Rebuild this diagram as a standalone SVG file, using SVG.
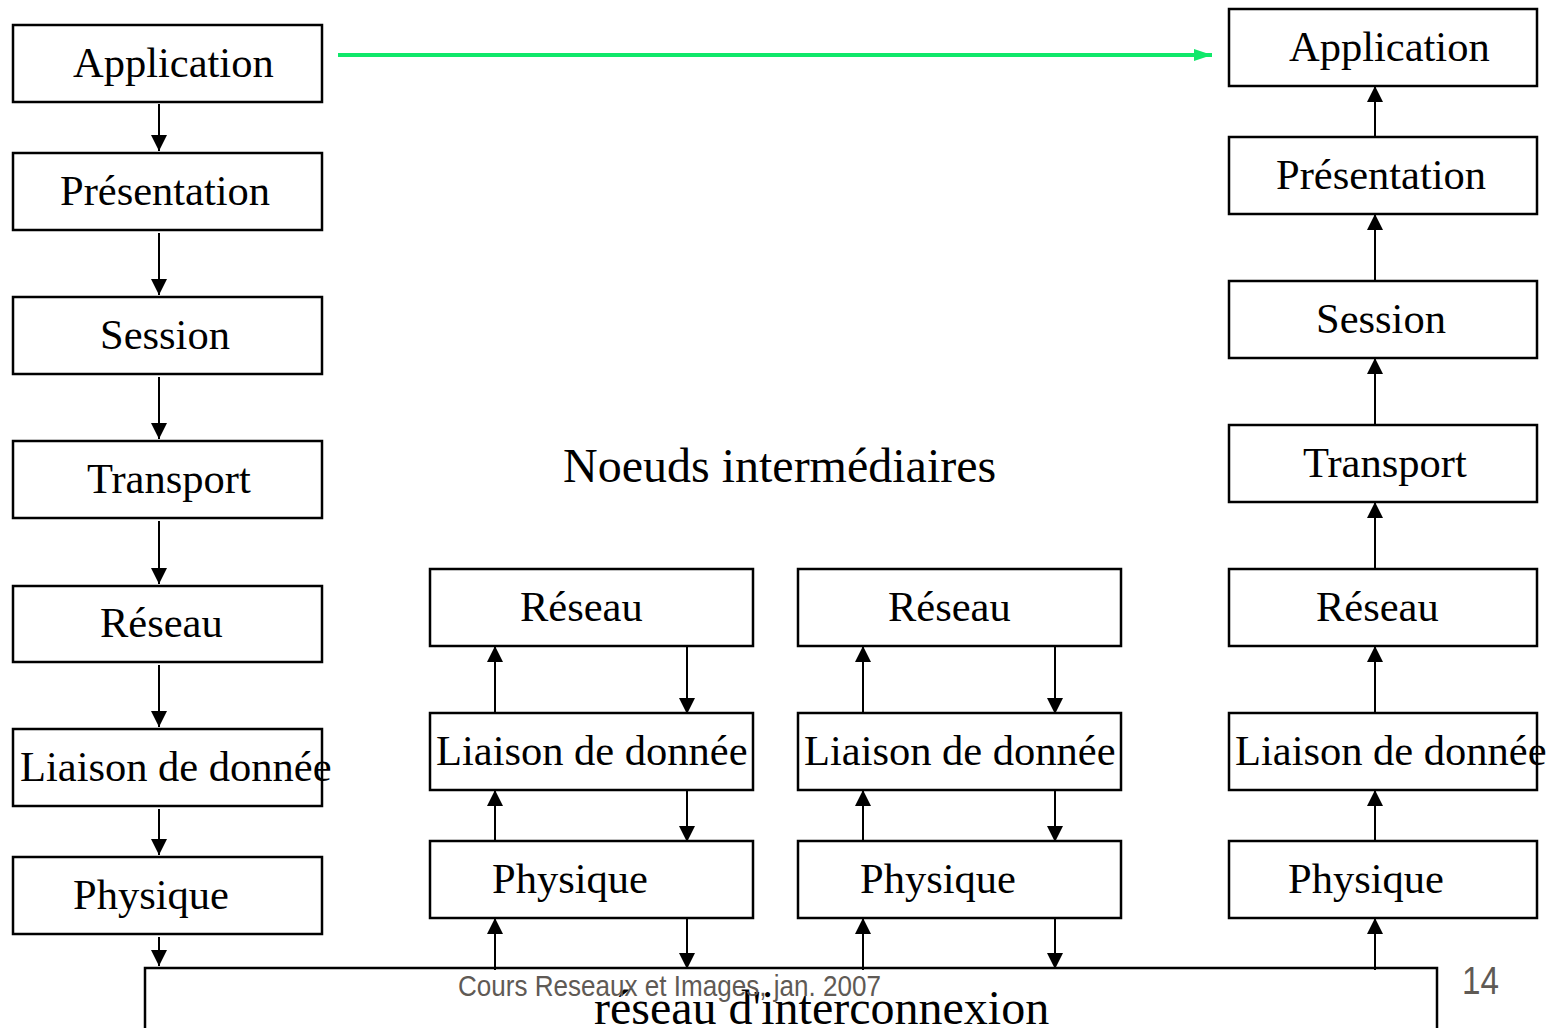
<svg xmlns="http://www.w3.org/2000/svg" width="1558" height="1028" viewBox="0 0 1558 1028">
  <style>
    .box { fill: #ffffff; stroke: #000000; stroke-width: 2.5; }
    .lbl { font-family: "Liberation Serif", "Times New Roman", serif; font-size: 42.5px; fill: #000000; }
    .big { font-family: "Liberation Serif", "Times New Roman", serif; font-size: 48px; fill: #000000; }
    .foot { font-family: "Liberation Sans", Arial, sans-serif; fill: #5f5a55; }
    .arr { stroke: #000000; stroke-width: 2; fill: none; marker-end: url(#head); }
  </style>
  <defs>
    <marker id="head" viewBox="0 0 10 10" refX="10" refY="5" markerUnits="userSpaceOnUse" markerWidth="16" markerHeight="16" orient="auto">
      <path d="M0,0 L10,5 L0,10 Z" fill="#000000"/>
    </marker>
    <marker id="ghead" viewBox="0 0 18 12" refX="18" refY="6" markerUnits="userSpaceOnUse" markerWidth="18" markerHeight="12" orient="auto">
      <path d="M0,0 L18,6 L0,12 Z" fill="#10e86a"/>
    </marker>
  </defs>

  <!-- interconnection network -->
  <g id="reseau-interconnexion">
    <rect class="box" x="145" y="968" width="1292" height="80"/>
    <text class="big" x="594" y="1024">réseau d'interconnexion</text>
  </g>

  <text class="big" x="563" y="482">Noeuds intermédiaires</text>

  <!-- sending stack -->
  <g id="src-application"><rect class="box" x="13" y="25" width="309" height="77"/><text class="lbl" x="73" y="77">Application</text></g>
  <g id="src-presentation"><rect class="box" x="13" y="153" width="309" height="77"/><text class="lbl" x="60" y="205">Présentation</text></g>
  <g id="src-session"><rect class="box" x="13" y="297" width="309" height="77"/><text class="lbl" x="100" y="349">Session</text></g>
  <g id="src-transport"><rect class="box" x="13" y="441" width="309" height="77"/><text class="lbl" x="87" y="493">Transport</text></g>
  <g id="src-reseau"><rect class="box" x="13" y="586" width="309" height="76"/><text class="lbl" x="100" y="637">Réseau</text></g>
  <g id="src-liaison"><rect class="box" x="13" y="729" width="309" height="77"/><text class="lbl" x="20" y="781">Liaison de donnée</text></g>
  <g id="src-physique"><rect class="box" x="13" y="857" width="309" height="77"/><text class="lbl" x="73" y="909">Physique</text></g>

  <!-- intermediate node 1 -->
  <g id="n1-reseau"><rect class="box" x="430" y="569" width="323" height="77"/><text class="lbl" x="520" y="621">Réseau</text></g>
  <g id="n1-liaison"><rect class="box" x="430" y="713" width="323" height="77"/><text class="lbl" x="436" y="765">Liaison de donnée</text></g>
  <g id="n1-physique"><rect class="box" x="430" y="841" width="323" height="77"/><text class="lbl" x="492" y="893">Physique</text></g>

  <!-- intermediate node 2 -->
  <g id="n2-reseau"><rect class="box" x="798" y="569" width="323" height="77"/><text class="lbl" x="888" y="621">Réseau</text></g>
  <g id="n2-liaison"><rect class="box" x="798" y="713" width="323" height="77"/><text class="lbl" x="804" y="765">Liaison de donnée</text></g>
  <g id="n2-physique"><rect class="box" x="798" y="841" width="323" height="77"/><text class="lbl" x="860" y="893">Physique</text></g>

  <!-- receiving stack -->
  <g id="dst-application"><rect class="box" x="1229" y="9" width="308" height="77"/><text class="lbl" x="1289" y="61">Application</text></g>
  <g id="dst-presentation"><rect class="box" x="1229" y="137" width="308" height="77"/><text class="lbl" x="1276" y="189">Présentation</text></g>
  <g id="dst-session"><rect class="box" x="1229" y="281" width="308" height="77"/><text class="lbl" x="1316" y="333">Session</text></g>
  <g id="dst-transport"><rect class="box" x="1229" y="425" width="308" height="77"/><text class="lbl" x="1303" y="477">Transport</text></g>
  <g id="dst-reseau"><rect class="box" x="1229" y="569" width="308" height="77"/><text class="lbl" x="1316" y="621">Réseau</text></g>
  <g id="dst-liaison"><rect class="box" x="1229" y="713" width="308" height="77"/><text class="lbl" x="1235" y="765">Liaison de donnée</text></g>
  <g id="dst-physique"><rect class="box" x="1229" y="841" width="308" height="77"/><text class="lbl" x="1288" y="893">Physique</text></g>

  <g id="connectors">
    <!-- peer-to-peer application link -->
    <line x1="338" y1="55" x2="1212" y2="55" stroke="#10e86a" stroke-width="4" marker-end="url(#ghead)"/>

    <!-- down the sending stack -->
    <line class="arr" x1="159" y1="104" x2="159" y2="151"/>
    <line class="arr" x1="159" y1="233" x2="159" y2="295"/>
    <line class="arr" x1="159" y1="377" x2="159" y2="439"/>
    <line class="arr" x1="159" y1="521" x2="159" y2="584"/>
    <line class="arr" x1="159" y1="665" x2="159" y2="727"/>
    <line class="arr" x1="159" y1="809" x2="159" y2="855"/>
    <line class="arr" x1="159" y1="937" x2="159" y2="966"/>

    <!-- node 1 -->
    <line class="arr" x1="495" y1="713" x2="495" y2="646"/>
    <line class="arr" x1="687" y1="645" x2="687" y2="714"/>
    <line class="arr" x1="495" y1="841" x2="495" y2="790"/>
    <line class="arr" x1="687" y1="789" x2="687" y2="842"/>
    <line class="arr" x1="495" y1="970" x2="495" y2="918"/>
    <line class="arr" x1="687" y1="917" x2="687" y2="969"/>

    <!-- node 2 -->
    <line class="arr" x1="863" y1="713" x2="863" y2="646"/>
    <line class="arr" x1="1055" y1="645" x2="1055" y2="714"/>
    <line class="arr" x1="863" y1="841" x2="863" y2="790"/>
    <line class="arr" x1="1055" y1="789" x2="1055" y2="842"/>
    <line class="arr" x1="863" y1="970" x2="863" y2="918"/>
    <line class="arr" x1="1055" y1="917" x2="1055" y2="969"/>

    <!-- up the receiving stack -->
    <line class="arr" x1="1375" y1="970" x2="1375" y2="918"/>
    <line class="arr" x1="1375" y1="841" x2="1375" y2="790"/>
    <line class="arr" x1="1375" y1="713" x2="1375" y2="646"/>
    <line class="arr" x1="1375" y1="569" x2="1375" y2="502"/>
    <line class="arr" x1="1375" y1="425" x2="1375" y2="358"/>
    <line class="arr" x1="1375" y1="281" x2="1375" y2="214"/>
    <line class="arr" x1="1375" y1="138" x2="1375" y2="86"/>
  </g>

  <!-- slide footer -->
  <text class="foot" x="458" y="996" font-size="29" textLength="423" lengthAdjust="spacingAndGlyphs">Cours Reseaux et Images, jan. 2007</text>
  <text class="foot" x="1462" y="994" font-size="39" textLength="37" lengthAdjust="spacingAndGlyphs">14</text>
</svg>
